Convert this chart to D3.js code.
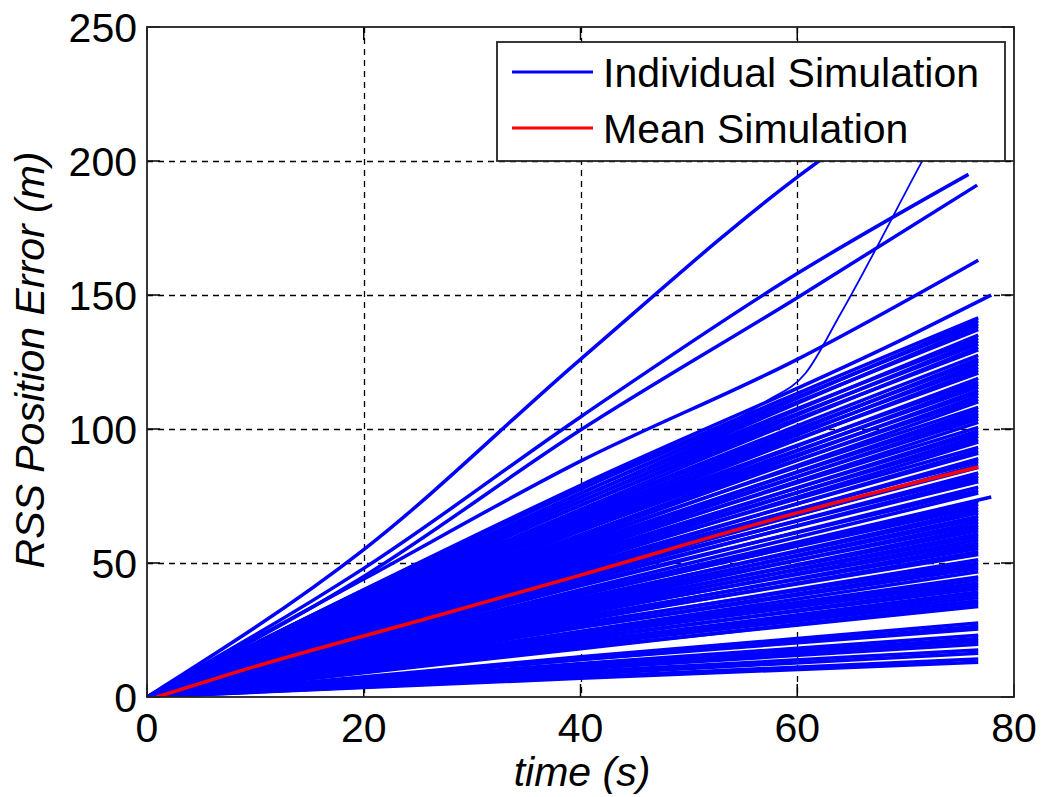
<!DOCTYPE html>
<html>
<head>
<meta charset="utf-8">
<script src="https://cdn.jsdelivr.net/npm/d3@7/dist/d3.min.js"></script>
<style>
  body { margin: 0; background: #fff; }
  svg text { font-family: "Liberation Sans", Arial, sans-serif; fill: #000; }
</style>
</head>
<body>
<svg id="chart" width="1042" height="797"></svg>
<script>
var xTicks = [0, 20, 40, 60, 80];
var yTicks = [0, 50, 100, 150, 200, 250];

// runs that break away from the bundle, [time, error]
var steepRuns = [
    [[0, 0], [20, 55], [40, 126], [60, 194], [76.7, 240]],
    [[0, 0], [20, 48], [40, 104.5], [60, 158], [75.8, 195]],
    [[0, 0], [20, 45], [40, 99.6], [60, 149], [76.6, 191]],
    [[0, 0], [20, 44], [40, 88], [60, 126], [76.7, 163]]
];
var jumpRun = [[0, 0], [20, 40], [40, 79], [57, 110], [60.8, 121], [64, 143], [73.1, 211.6], [76.7, 237]];

// the bundle: error at 40 s and at the last sample
var runEndTime = 76.7;
var runEnd = [141.5, 140.4, 139.2, 138.2, 137.1,
    135.0, 133.8, 132.8, 131.7, 130.5, 129.5,
    127.5, 126.3, 125.3, 124.2, 123.0, 122.0, 120.9,
    118.9, 117.7, 116.7, 115.6, 114.4, 113.4, 112.3, 111.1, 110.1,
    108.1, 107.0, 105.8, 104.8, 103.7, 102.5,
    100.6, 99.4, 98.4, 97.3, 96.1, 95.1,
    93.1, 91.9, 90.9,
    88.9, 87.8, 86.6, 85.6,
    83.6, 82.4, 81.4, 80.3,
    78.3, 77.1, 76.1,
    73.0, 71.9, 70.7, 69.7, 68.6, 67.4, 66.4, 65.3, 64.1, 63.1,
    62.0, 60.8, 59.8, 58.7, 57.5, 56.5, 55.4, 54.2, 53.2,
    51.2, 50.0, 49.0, 47.9, 46.7,
    44.8, 43.7, 42.5, 41.5, 40.4, 39.2, 38.2, 37.1, 35.9, 34.9, 33.8,
    27.6, 26.4, 25.4,
    23.0, 21.8, 20.8, 19.7,
    17.5, 16.3,
    14.2, 13.0];
var runMid = [78, 76, 77.5, 74.5, 76,
    73, 74.5, 71.5, 73, 70, 71.5,
    69, 67, 68.5, 66, 67.5, 65, 66,
    63.5, 64.5, 62, 63, 60.5, 62, 59.5, 60.5, 58,
    58.5, 56.5, 57, 55, 56, 54,
    54.5, 52.5, 53, 51, 52, 50,
    50.5, 48.5, 49,
    47, 48, 45.5, 46.5,
    44.5, 45, 43, 43.5,
    41.5, 42, 40,
    39, 38, 38.5, 36.5, 37, 35.5, 36, 34, 35, 33,
    33.5, 32, 32.5, 31, 31.5, 29.5, 30, 28.5, 29,
    27, 27.5, 26, 26, 24.5,
    24, 23, 23, 21.5, 22, 20.5, 20.5, 19.5, 19.5, 18, 18.5,
    15, 14, 14,
    12.5, 11.5, 11.5, 10.5,
    9.5, 8.5,
    7.5, 7];

// two runs that last a little longer, [time, error]
var longRuns = [
    [[0, 0], [40, 79], [70, 134], [77.9, 150]],
    [[0, 0], [40, 39], [77.9, 74.6]]
];

var meanRun = [[0.9, 0], [8, 9], [27, 30.6], [40, 45.5], [60, 68.7], [76.7, 85.8]];

var legendLabels = ["Individual Simulation", "Mean Simulation"];
var legendColors = ["#0000ff", "#ff0000"];

(function() {
    var pLeft = 147, pRight = 1014, pTop = 27, pBottom = 697;

    var svg = d3.select("#chart");

    var x = d3.scaleLinear().domain([0, 80]).range([pLeft, pRight]);
    var y = d3.scaleLinear().domain([0, 250]).range([pBottom, pTop]);

    svg.append("defs").append("clipPath").attr("id", "plotclip")
        .append("rect")
        .attr("x", pLeft).attr("y", pTop)
        .attr("width", pRight - pLeft).attr("height", pBottom - pTop);

    // grid
    var grid = svg.append("g").attr("stroke", "#000").attr("stroke-width", 1.3).attr("stroke-dasharray", "6,5");
    grid.selectAll(".gx").data(xTicks.slice(1, -1)).enter().append("line")
        .attr("x1", function(d){ return Math.round(x(d)) + 0.5; })
        .attr("x2", function(d){ return Math.round(x(d)) + 0.5; })
        .attr("y1", pTop).attr("y2", pBottom);
    grid.selectAll(".gy").data(yTicks.slice(1, -1)).enter().append("line")
        .attr("y1", function(d){ return Math.round(y(d)) + 0.5; })
        .attr("y2", function(d){ return Math.round(y(d)) + 0.5; })
        .attr("x1", pLeft).attr("x2", pRight);

    // ticks on all four sides, pointing inward
    var tickLen = 13;
    var ticks = svg.append("g").attr("stroke", "#000").attr("stroke-width", 1.5);
    xTicks.forEach(function(d){
        ticks.append("line").attr("x1", x(d)).attr("x2", x(d)).attr("y1", pBottom).attr("y2", pBottom - tickLen);
        ticks.append("line").attr("x1", x(d)).attr("x2", x(d)).attr("y1", pTop).attr("y2", pTop + tickLen);
    });
    yTicks.forEach(function(d){
        ticks.append("line").attr("y1", y(d)).attr("y2", y(d)).attr("x1", pLeft).attr("x2", pLeft + tickLen);
        ticks.append("line").attr("y1", y(d)).attr("y2", y(d)).attr("x1", pRight).attr("x2", pRight - tickLen);
    });

    var line = d3.line()
        .curve(d3.curveMonotoneX)
        .x(function(d){ return x(d[0]); })
        .y(function(d){ return y(d[1]); });

    var runs = runEnd.map(function(v, i){
        return [[0, 0], [40, runMid[i]], [runEndTime, v]];
    });
    longRuns.forEach(function(r){ runs.push(r); });
    steepRuns.forEach(function(r){ runs.push(r); });

    var plot = svg.append("g").attr("clip-path", "url(#plotclip)");

    plot.selectAll(".run").data(runs).enter().append("path")
        .attr("class", "run")
        .attr("d", line)
        .attr("fill", "none")
        .attr("stroke", "#0000ff")
        .attr("stroke-width", 3.5);

    plot.append("path")
        .attr("d", line(jumpRun))
        .attr("fill", "none")
        .attr("stroke", "#0000ff")
        .attr("stroke-width", 1.8);

    plot.append("path")
        .attr("d", line(meanRun))
        .attr("fill", "none")
        .attr("stroke", "#ff0000")
        .attr("stroke-width", 3.5);

    // axes box
    svg.append("rect")
        .attr("x", pLeft).attr("y", pTop)
        .attr("width", pRight - pLeft).attr("height", pBottom - pTop)
        .attr("fill", "none").attr("stroke", "#222").attr("stroke-width", 1.8);

    // tick labels
    svg.selectAll(".xl").data(xTicks).enter().append("text")
        .attr("x", function(d){ return x(d); })
        .attr("y", 742)
        .attr("text-anchor", "middle")
        .attr("font-size", 41)
        .text(function(d){ return d; });
    svg.selectAll(".yl").data(yTicks).enter().append("text")
        .attr("x", 137)
        .attr("y", function(d){ return y(d) + 15; })
        .attr("text-anchor", "end")
        .attr("font-size", 41)
        .text(function(d){ return d; });

    // axis titles
    svg.append("text")
        .attr("x", 582).attr("y", 786)
        .attr("text-anchor", "middle")
        .attr("font-size", 41)
        .attr("font-style", "italic")
        .text("time (s)");
    svg.append("text")
        .attr("transform", "translate(44,360) rotate(-90)")
        .attr("text-anchor", "middle")
        .attr("font-size", 41)
        .attr("font-style", "italic")
        .text("RSS Position Error (m)");

    // legend
    var legend = svg.append("g");
    legend.append("rect")
        .attr("x", 497).attr("y", 42)
        .attr("width", 508).attr("height", 119)
        .attr("fill", "#fff").attr("stroke", "#222").attr("stroke-width", 1.8);
    legendLabels.forEach(function(label, i){
        var ly = 72 + i * 56;
        legend.append("line")
            .attr("x1", 512).attr("x2", 593)
            .attr("y1", ly).attr("y2", ly)
            .attr("stroke", legendColors[i]).attr("stroke-width", 3);
        legend.append("text")
            .attr("x", 603).attr("y", ly + 15)
            .attr("font-size", 41)
            .text(label);
    });
})();
</script>
</body>
</html>
